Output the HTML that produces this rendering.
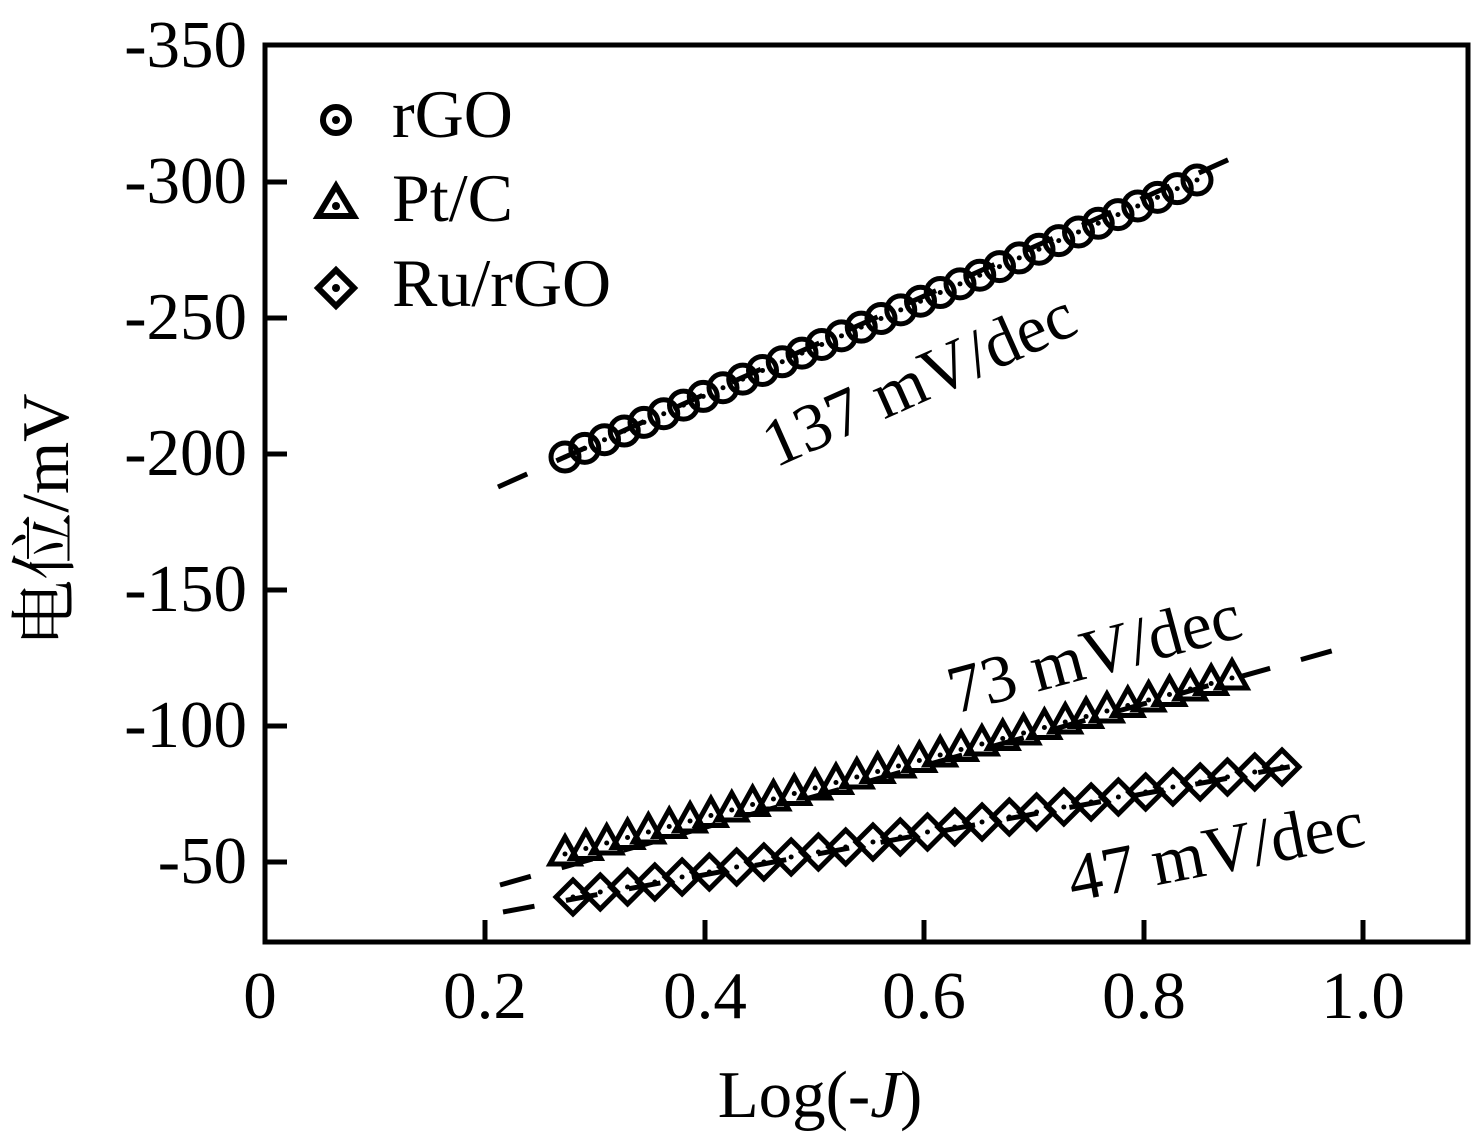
<!DOCTYPE html>
<html><head><meta charset="utf-8"><style>
body{margin:0;background:#fff}
svg{display:block}
text{font-family:"Liberation Serif","Noto Serif CJK SC",serif;fill:#000}
</style></head><body>
<svg id="s" width="1475" height="1138" viewBox="0 0 1475 1138" xmlns="http://www.w3.org/2000/svg">
<g id="data" fill="none" stroke="#000"></g>
<rect x="265" y="45" width="1203" height="897" fill="none" stroke="#000" stroke-width="5"/>
<g stroke="#000" stroke-width="5">
<line x1="265" y1="182" x2="287" y2="182"/><line x1="265" y1="318" x2="287" y2="318"/>
<line x1="265" y1="454" x2="287" y2="454"/><line x1="265" y1="590" x2="287" y2="590"/>
<line x1="265" y1="726" x2="287" y2="726"/><line x1="265" y1="862" x2="287" y2="862"/>
<line x1="485" y1="942" x2="485" y2="920"/><line x1="705" y1="942" x2="705" y2="920"/>
<line x1="924" y1="942" x2="924" y2="920"/><line x1="1144" y1="942" x2="1144" y2="920"/>
<line x1="1363" y1="942" x2="1363" y2="920"/>
</g>
<g font-size="67" text-anchor="end">
<text x="247" y="67">-350</text><text x="247" y="203">-300</text><text x="247" y="339">-250</text>
<text x="247" y="475">-200</text><text x="247" y="611">-150</text><text x="247" y="747">-100</text>
<text x="247" y="883">-50</text>
</g>
<g font-size="67" text-anchor="middle">
<text x="260" y="1018">0</text><text x="485" y="1018">0.2</text><text x="705" y="1018">0.4</text>
<text x="924" y="1018">0.6</text><text x="1144" y="1018">0.8</text><text x="1363" y="1018">1.0</text>
<text x="820" y="1117">Log(-<tspan font-style="italic">J</tspan>)</text>
<text transform="translate(68,520) rotate(-90)">电位/mV</text>
</g>
<g font-size="68">
<text x="392" y="137">rGO</text><text x="392" y="221">Pt/C</text><text x="392" y="306">Ru/rGO</text>
<text transform="translate(928,400) rotate(-24)" text-anchor="middle">137 mV/dec</text>
<text transform="translate(1100,675) rotate(-15)" text-anchor="middle">73 mV/dec</text>
<text transform="translate(1220,873) rotate(-11)" text-anchor="middle">47 mV/dec</text>
</g>
<g fill="none" stroke="#000" stroke-width="6">
<circle cx="336" cy="120" r="13"/>
<polygon points="336,186 354,216 318,216"/>
<polygon points="336,270 354,288 336,306 318,288"/>
</g>
<g fill="#000"><circle cx="336" cy="120" r="4"/><circle cx="336" cy="206" r="4"/><circle cx="336" cy="288" r="4"/></g>
</svg>
<script>
var g=document.getElementById('data'),NS='http://www.w3.org/2000/svg';
function el(t,a){var e=document.createElementNS(NS,t);for(var k in a)e.setAttribute(k,a[k]);g.appendChild(e);return e;}
function dl(x1,y1,x2,y2){el('line',{x1:x1,y1:y1,x2:x2,y2:y2,'stroke-width':5,'stroke-dasharray':'32 32'});}
dl(498,487,1250,150);dl(500,885,1360,643);dl(503,912,1310,763);
var i,n,x,y;
n=33;for(i=0;i<n;i++){x=565+(1197-565)*i/(n-1);y=457+(180-457)*i/(n-1);
el('circle',{cx:x,cy:y,r:14,'stroke-width':5});el('circle',{cx:x,cy:y,r:2.5,fill:'#000',stroke:'none'});}
n=33;for(i=0;i<n;i++){x=565+(1232-565)*i/(n-1);y=852+(676-852)*i/(n-1);
el('polygon',{points:(x)+','+(y-15)+' '+(x+15)+','+(y+12)+' '+(x-15)+','+(y+12),'stroke-width':5,'stroke-linejoin':'miter'});el('circle',{cx:x,cy:y+2,r:2.5,fill:'#000',stroke:'none'});}
n=27;for(i=0;i<n;i++){x=573+(1282-573)*i/(n-1);y=897+(767-897)*i/(n-1);
el('polygon',{points:x+','+(y-17)+' '+(x+17)+','+y+' '+x+','+(y+17)+' '+(x-17)+','+y,'stroke-width':5});el('circle',{cx:x,cy:y,r:2.5,fill:'#000',stroke:'none'});}
</script>
</body></html>
